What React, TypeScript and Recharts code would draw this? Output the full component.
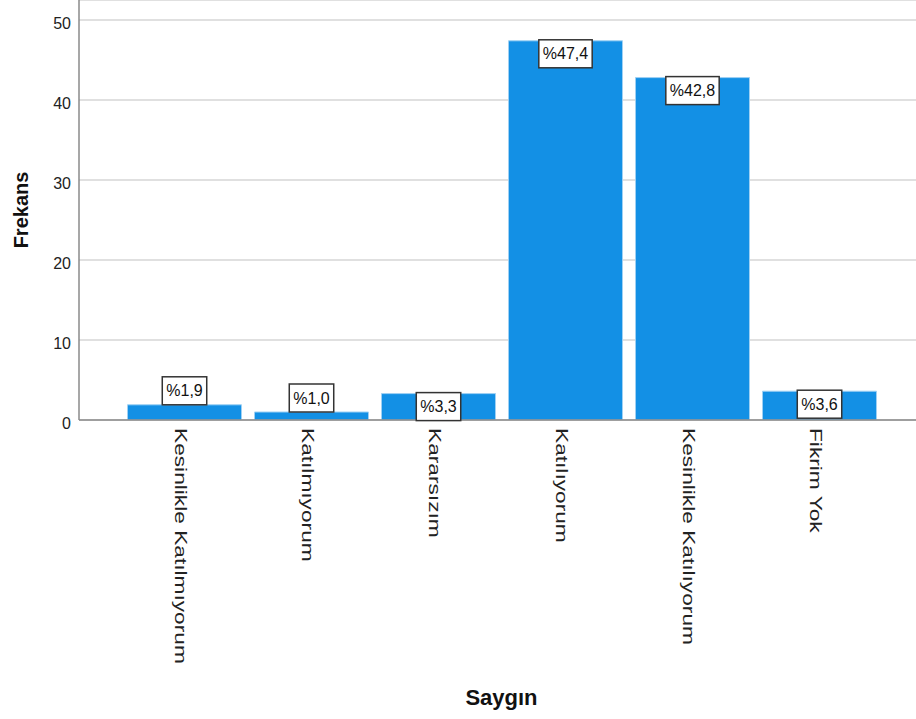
import { BarChart, Bar, XAxis, YAxis, CartesianGrid, LabelList } from 'recharts'

// Saygın maddesine verilen yanıtlar
const KATEGORILER = [
  'Kesinlikle Katılmıyorum',
  'Katılmıyorum',
  'Kararsızım',
  'Katılıyorum',
  'Kesinlikle Katılıyorum',
  'Fikrim Yok',
]
const FREKANS = [1.9, 1.0, 3.3, 47.4, 42.8, 3.6]
const YUZDE_ETIKET = ['%1,9', '%1,0', '%3,3', '%47,4', '%42,8', '%3,6']
const Y_TICKS = [0, 10, 20, 30, 40, 50]

const BAR_COLOR = '#1390e5'
const FONT = '"Liberation Sans", Arial, sans-serif'

const data = KATEGORILER.map((kategori, i) => ({
  kategori,
  frekans: FREKANS[i],
  yuzde: YUZDE_ETIKET[i],
}))

// Arial genişlikleri ile kaba metin ölçümü
const charWidth = (c: string) => {
  if (c === '%') return 0.889
  if (c === ',') return 0.278
  return 0.556
}
const textWidth = (s: string, size: number) =>
  s.split('').reduce((sum, c) => sum + charWidth(c), 0) * size

function YuzdeKutusu(props: any) {
  const { x, y, width, height, value } = props
  const fontSize = 16
  const boxW = textWidth(String(value), fontSize) + 8
  const boxH = 28
  const cx = x + width / 2
  // kısa çubuklarda kutu çubuğun üstünde durur
  const top = height < 20 ? y - boxH : y - 1
  return (
    <g>
      <rect
        x={cx - boxW / 2}
        y={top}
        width={boxW}
        height={boxH}
        fill="#fff"
        stroke="#333"
        strokeWidth={1.5}
      />
      <text
        x={cx}
        y={top + boxH / 2}
        textAnchor="middle"
        dominantBaseline="central"
        fontSize={fontSize}
        fontFamily={FONT}
        fill="#111"
      >
        {value}
      </text>
    </g>
  )
}

function KategoriTick(props: any) {
  const { x, y, payload } = props
  return (
    <g transform={`translate(${x - 4},${y})`}>
      <text
        transform="rotate(90) scale(1.42,1)"
        x={0}
        y={0}
        textAnchor="start"
        dominantBaseline="central"
        fontSize={16}
        fontFamily={FONT}
        fill="#222"
      >
        {payload.value}
      </text>
    </g>
  )
}

export default function App() {
  return (
    <div
      style={{
        position: 'absolute',
        left: 0,
        top: 0,
        width: 916,
        height: 719,
        background: '#fff',
        fontFamily: FONT,
      }}
    >
      <BarChart
        width={916}
        height={719}
        data={data}
        margin={{ top: 0, right: 0, left: 0, bottom: 0 }}
        barCategoryGap={6.5}
      >
        <CartesianGrid vertical={false} stroke="#d6d6d6" strokeWidth={1.5} />
        <XAxis
          dataKey="kategori"
          type="category"
          height={299}
          padding={{ left: 42, right: 33 }}
          axisLine={{ stroke: '#8a8a8a', strokeWidth: 1.5 }}
          tickLine={false}
          interval={0}
          tick={<KategoriTick />}
          label={(p: any) => {
            const vb = p.viewBox
            return (
              <text
                x={vb.x + vb.width / 2 + 4}
                y={vb.y + vb.height - 14}
                textAnchor="middle"
                fontSize={22}
                fontWeight="bold"
                fontFamily={FONT}
                fill="#111"
              >
                Saygın
              </text>
            )
          }}
        />
        <YAxis
          width={79}
          domain={[0, 52.5]}
          ticks={Y_TICKS}
          allowDataOverflow
          axisLine={{ stroke: '#8a8a8a', strokeWidth: 1.5 }}
          tickLine={false}
          tick={{ fontSize: 16, fill: '#222', fontFamily: FONT, dy: 3 }}
          label={(p: any) => {
            const vb = p.viewBox
            const cx = vb.x + 21
            const cy = vb.y + vb.height / 2
            return (
              <text
                x={cx}
                y={cy}
                transform={`rotate(-90, ${cx}, ${cy})`}
                textAnchor="middle"
                dominantBaseline="central"
                fontSize={20}
                fontWeight="bold"
                fontFamily={FONT}
                fill="#111"
              >
                Frekans
              </text>
            )
          }}
        />
        <Bar
          dataKey="frekans"
          fill={BAR_COLOR}
          stroke="#9fd0f3"
          strokeWidth={1}
          isAnimationActive={false}
        >
          <LabelList dataKey="yuzde" content={<YuzdeKutusu />} />
        </Bar>
      </BarChart>
    </div>
  )
}
